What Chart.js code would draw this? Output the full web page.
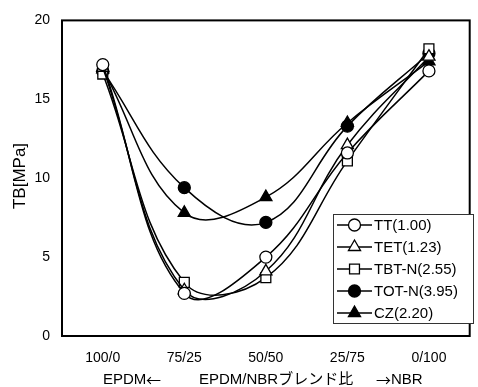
<!DOCTYPE html>
<html>
<head>
<meta charset="utf-8">
<script src="https://cdn.jsdelivr.net/npm/chart.js@4.4.1/dist/chart.umd.min.js"></script>
<style>
  html, body { margin: 0; padding: 0; background: #fff; }
  #wrap { width: 478px; height: 387px; position: relative; }
</style>
</head>
<body>
<div id="wrap"><canvas id="c"></canvas></div>
<script>
// EPDM/NBR blend ratio vs tensile strength TB [MPa]
const categories = ["100/0", "75/25", "50/50", "25/75", "0/100"];
const yTicks = [0, 5, 10, 15, 20];

const tt   = [17.2, 2.7, 5.0, 11.6, 16.8];
const tet  = [17.0, 2.9, 4.1, 12.1, 17.7];
const tbtN = [16.6, 3.4, 3.7, 11.1, 18.2];
const totN = [16.8, 9.4, 7.2, 13.3, 17.9];
const cz   = [16.9, 7.8, 8.8, 13.5, 17.4];

const FONT = "'Liberation Sans', Arial, 'Noto Sans CJK JP', sans-serif";
const CJK = "'Noto Sans CJK JP', sans-serif";

const SERIES = [
  { label: "TT(1.00)",    data: tt,   style: "circle",   fill: "#fff", r: 6 },
  { label: "TET(1.23)",   data: tet,  style: "triangle", fill: "#fff", r: 7 },
  { label: "TBT-N(2.55)", data: tbtN, style: "rect",     fill: "#fff", r: 7 },
  { label: "TOT-N(3.95)", data: totN, style: "circle",   fill: "#000", r: 6 },
  { label: "CZ(2.20)",    data: cz,   style: "triangle", fill: "#000", r: 7 },
];

const frame = {
  id: "frame",
  afterDraw(chart) {
    const { ctx, chartArea: a } = chart;
    ctx.save();
    ctx.strokeStyle = "#000";
    ctx.lineWidth = 2;
    ctx.strokeRect(a.left, a.top, a.right - a.left, a.bottom - a.top);

    // axis titles
    ctx.fillStyle = "#000";
    ctx.textBaseline = "middle";
    ctx.textAlign = "left";
    ctx.font = "15px " + FONT;
    ctx.fillText("EPDM", 103, 380);
    ctx.fillText("EPDM/NBRブレンド比", 199, 380);
    ctx.fillText("NBR", 391, 380);
    ctx.font = "15px " + CJK;
    ctx.fillText("←", 146, 380);
    ctx.fillText("→", 376, 380);

    ctx.save();
    ctx.translate(20, 176);
    ctx.rotate(-Math.PI / 2);
    ctx.textAlign = "center";
    ctx.font = "17px " + FONT;
    ctx.fillText("TB[MPa]", 0, 0);
    ctx.restore();

    // legend box
    const bx = 333, by = 214, bw = 140, bh = 109;
    ctx.fillStyle = "#fff";
    ctx.fillRect(bx, by, bw, bh);
    ctx.strokeStyle = "#333";
    ctx.lineWidth = 1;
    ctx.strokeRect(bx + 0.5, by + 0.5, bw, bh);

    chart.data.datasets.forEach((ds, i) => {
      const y = 225 + i * 22;
      ctx.strokeStyle = "#000";
      ctx.lineWidth = 1.5;
      ctx.beginPath();
      ctx.moveTo(337, y);
      ctx.lineTo(372, y);
      ctx.stroke();
      ctx.fillStyle = ds.pointBackgroundColor;
      ctx.strokeStyle = "#000";
      ctx.lineWidth = 1.3;
      Chart.helpers.drawPoint(ctx, { pointStyle: ds.pointStyle, radius: ds.pointRadius, borderWidth: 1.3 }, 354.5, y);
      ctx.fillStyle = "#000";
      ctx.font = "15px " + FONT;
      ctx.textAlign = "left";
      ctx.textBaseline = "middle";
      ctx.fillText(ds.label, 374, y + 1);
    });
    ctx.restore();
  },
};

new Chart(document.getElementById("c"), {
  type: "line",
  data: {
    labels: categories,
    datasets: SERIES.map((s) => ({
      label: s.label,
      data: s.data,
      borderColor: "#000",
      borderWidth: 1.5,
      tension: 0.4,
      fill: false,
      pointStyle: s.style,
      pointRadius: s.r,
      pointBackgroundColor: s.fill,
      pointBorderColor: "#000",
      pointBorderWidth: 1.3,
    })),
  },
  options: {
    responsive: true,
    maintainAspectRatio: false,
    animation: false,
    layout: { padding: { left: 0, top: 15, right: 3, bottom: 0 } },
    plugins: { legend: { display: false }, tooltip: { enabled: false } },
    scales: {
      x: {
        offset: true,
        afterFit: (s) => { s.height = 51; },
        grid: { display: false, drawTicks: false },
        border: { display: false },
        ticks: { color: "#000", padding: 14, font: { family: FONT, size: 14 } },
      },
      y: {
        min: 0,
        max: 20,
        afterFit: (s) => { s.width = 62; },
        afterBuildTicks: (s) => { s.ticks = yTicks.map((v) => ({ value: v })); },
        grid: { display: false, drawTicks: false },
        border: { display: false },
        ticks: { color: "#000", padding: 12, font: { family: FONT, size: 14 } },
      },
    },
  },
  plugins: [frame],
});
</script>
</body>
</html>
